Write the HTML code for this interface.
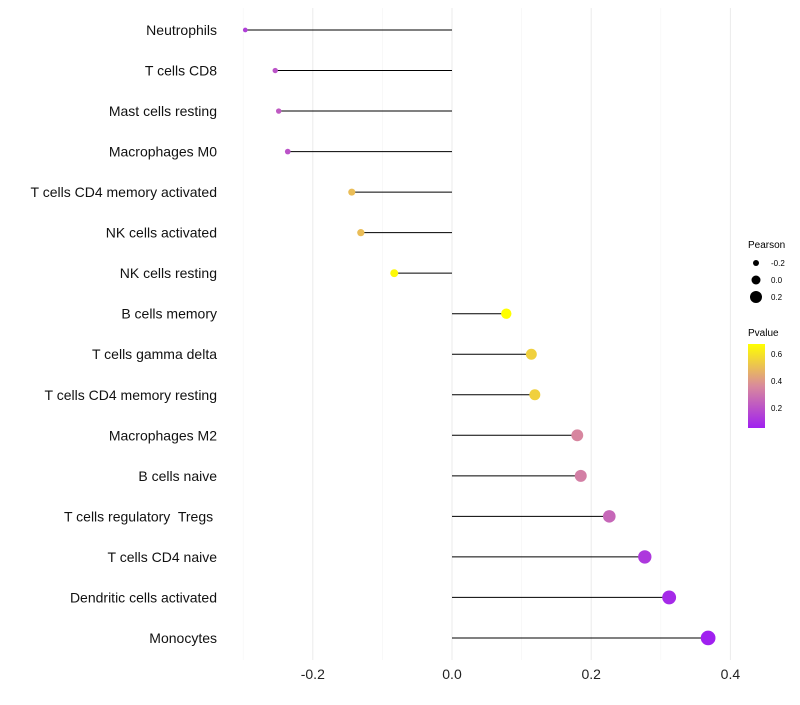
<!DOCTYPE html>
<html><head><meta charset="utf-8"><style>
body{margin:0;background:#fff;font-family:"Liberation Sans",sans-serif}
</style></head><body>
<svg id="chart" width="800" height="700" xmlns="http://www.w3.org/2000/svg">
<defs><linearGradient id="pg" x1="0" y1="1" x2="0" y2="0">
<stop offset="0" stop-color="#a020f0"/><stop offset="0.5" stop-color="#d98a9c"/><stop offset="1" stop-color="#ffff00"/>
</linearGradient></defs>
<g id="grid"></g><g id="marks"></g><g id="labels"></g>
<g font-size="10">
<text x="748" y="248" font-size="10">Pearson</text>
<circle cx="756" cy="263" r="3" fill="#000"/><text x="771" y="266" font-size="8">-0.2</text>
<circle cx="756" cy="280" r="4.5" fill="#000"/><text x="771" y="283" font-size="8">0.0</text>
<circle cx="756" cy="297" r="6" fill="#000"/><text x="771" y="300" font-size="8">0.2</text>
<text x="748" y="336" font-size="10">Pvalue</text>
<rect x="748" y="344" width="17" height="84" fill="url(#pg)"/>
<text x="771" y="357" font-size="8">0.6</text>
<text x="771" y="384" font-size="8">0.4</text>
<text x="771" y="411" font-size="8">0.2</text>
</g>
</svg>
<script>
const categories=["Neutrophils","T cells CD8","Mast cells resting","Macrophages M0","T cells CD4 memory activated","NK cells activated","NK cells resting","B cells memory","T cells gamma delta","T cells CD4 memory resting","Macrophages M2","B cells naive","T cells regulatory  Tregs ","T cells CD4 naive","Dendritic cells activated","Monocytes"];
const pearson=[-0.297,-0.254,-0.249,-0.236,-0.144,-0.131,-0.083,0.078,0.114,0.119,0.180,0.185,0.226,0.277,0.312,0.368];
const pvalues=[0.14,0.2,0.22,0.2,0.5,0.5,0.66,0.675,0.55,0.55,0.35,0.33,0.26,0.12,0.08,0.05];
const xTicks=[-0.2,0.0,0.2,0.4];
const NS="http://www.w3.org/2000/svg";
const x=v=>452+v*696;
const y=i=>30+i*40.53;
const rad=v=>Math.max(1.5,4.6+7.5*v);
function lerp(a,b,t){return a.map((c,k)=>Math.round(c+(b[k]-c)*t));}
function col(p){const t=Math.min(1,Math.max(0,(p-0.05)/0.625));const c0=[160,32,240],c1=[217,138,156],c2=[255,255,0];const c=t<0.5?lerp(c0,c1,t*2):lerp(c1,c2,(t-0.5)*2);return `rgb(${c})`;}
function mk(tag,attrs,parent){const e=document.createElementNS(NS,tag);for(const k in attrs)e.setAttribute(k,attrs[k]);document.getElementById(parent).appendChild(e);return e;}
[-0.3,-0.1,0.1,0.3].forEach(v=>{const l=mk("line",{x1:x(v),x2:x(v),y1:8,y2:660,stroke:"#f4f4f4","stroke-width":0.6},"grid");

});
xTicks.forEach(v=>{const l=mk("line",{x1:x(v),x2:x(v),y1:8,y2:660,stroke:"#ebebeb","stroke-width":1},"grid");


const t=mk("text",{x:x(v),y:679,"text-anchor":"middle","font-size":14,fill:"#222"},"labels");t.textContent=v.toFixed(1);

});
categories.forEach((c,i)=>{
const l=mk("line",{x1:x(0),x2:x(pearson[i]),y1:y(i),y2:y(i),stroke:"#000","stroke-width":1},"marks");


const d=mk("circle",{cx:x(pearson[i]),cy:y(i),r:rad(pearson[i]),fill:col(pvalues[i])},"marks");


const t=mk("text",{x:217,y:y(i)+5,"text-anchor":"end","font-size":14,fill:"#111"},"labels");t.textContent=c;t.setAttribute("xml:space","preserve");t.style.whiteSpace="pre";


});
</script>
</body></html>
